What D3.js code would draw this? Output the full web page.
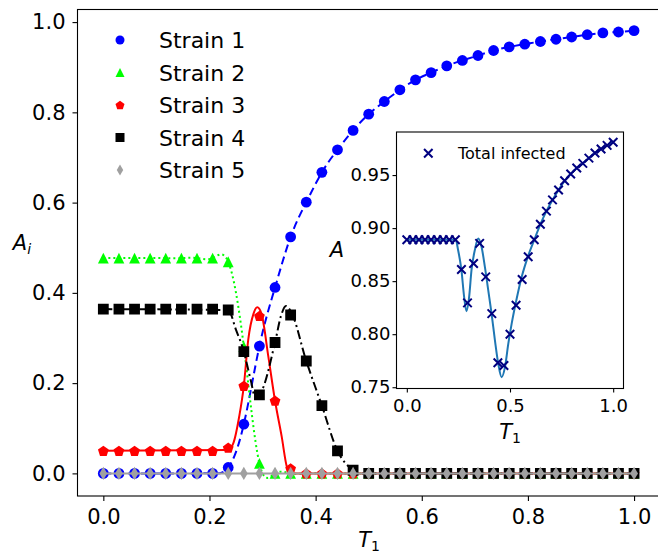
<!DOCTYPE html>
<html>
<head>
<meta charset="utf-8">
<script src="https://cdn.jsdelivr.net/npm/d3@7/dist/d3.min.js"></script>
<style>
  body { margin: 0; background: #fff; }
  text { font-family: "DejaVu Sans", sans-serif; fill: #000; }
</style>
</head>
<body>
<div id="chart"></div>
<script>

// T1 values (x axis, 35 runs)
var T1 = [0, 0.0294, 0.0588, 0.0882, 0.1176, 0.1471, 0.1765, 0.2059, 0.2353, 0.2647,
          0.2941, 0.3235, 0.3529, 0.3824, 0.4118, 0.4412, 0.4706, 0.5, 0.5294, 0.5588,
          0.5882, 0.6176, 0.6471, 0.6765, 0.7059, 0.7353, 0.7647, 0.7941, 0.8235, 0.8529,
          0.8824, 0.9118, 0.9412, 0.9706, 1.0];

var strain1 = [0, 0, 0, 0, 0, 0, 0, 0, 0.013, 0.109,
               0.282, 0.412, 0.524, 0.601, 0.667, 0.717, 0.760, 0.796, 0.824, 0.850,
               0.872, 0.888, 0.903, 0.915, 0.926, 0.937, 0.945, 0.951, 0.957, 0.962,
               0.967, 0.972, 0.976, 0.978, 0.981];
var strain2 = [0.477, 0.477, 0.477, 0.477, 0.477, 0.477, 0.477, 0.477, 0.469, 0.281,
               0.022, 0, 0, 0, 0, 0, 0, 0, 0, 0,
               0, 0, 0, 0, 0, 0, 0, 0, 0, 0,
               0, 0, 0, 0, 0];
var strain3 = [0.050, 0.050, 0.050, 0.050, 0.050, 0.050, 0.050, 0.050, 0.057, 0.194,
               0.349, 0.161, 0.011, 0, 0, 0, 0, 0, 0, 0,
               0, 0, 0, 0, 0, 0, 0, 0, 0, 0,
               0, 0, 0, 0, 0];
var strain4 = [0.364, 0.364, 0.364, 0.364, 0.364, 0.364, 0.364, 0.364, 0.362, 0.270,
               0.174, 0.290, 0.351, 0.249, 0.150, 0.050, 0.007, 0, 0, 0,
               0, 0, 0, 0, 0, 0, 0, 0, 0, 0,
               0, 0, 0, 0, 0];
var strain5 = [0, 0, 0, 0, 0, 0, 0, 0, 0, 0,
               0, 0, 0, 0, 0, 0, 0, 0, 0, 0,
               0, 0, 0, 0, 0, 0, 0, 0, 0, 0,
               0, 0, 0, 0, 0];

// fitted curves for strain 3 and 4 (they peak between runs)
var curve3T = [0, 0.2353, 0.245, 0.256, 0.2647, 0.273, 0.283, 0.290, 0.298, 0.311, 0.3235, 0.336, 0.346, 0.354, 0.38, 1.0];
var curve3 =  [0.050, 0.052, 0.067, 0.126, 0.194, 0.296, 0.354, 0.368, 0.354, 0.258, 0.161, 0.082, 0.014, 0, 0, 0];
var curve4T = [0, 0.2353, 0.25, 0.2647, 0.278, 0.286, 0.296, 0.3235, 0.335, 0.344, 0.3529, 0.3824, 0.4118, 0.4412, 0.4706, 0.48, 1.0];
var curve4 =  [0.364, 0.362, 0.318, 0.270, 0.205, 0.170, 0.178, 0.290, 0.350, 0.371, 0.360, 0.249, 0.150, 0.050, 0.007, 0, 0];

// inset: total infected
var totalInfected = [0.889, 0.889, 0.889, 0.889, 0.889, 0.889, 0.889, 0.889, 0.889, 0.861,
                     0.8295, 0.8667, 0.8856, 0.854, 0.8194, 0.773, 0.7705, 0.800, 0.8273, 0.8516,
                     0.873, 0.889, 0.9036, 0.916, 0.9266, 0.936, 0.9446, 0.951, 0.9566, 0.961,
                     0.966, 0.9708, 0.9746, 0.978, 0.981];
var totalCurveT = [0, 0.237, 0.2485, 0.2647, 0.2777, 0.289, 0.302, 0.3134, 0.3296, 0.3458,
                   0.362, 0.3783, 0.3945, 0.4107, 0.427, 0.4432, 0.4594, 0.4756, 0.4918, 0.5081,
                   0.5325, 0.5568, 0.5893, 0.6176, 0.6471, 0.6765, 0.7059, 0.7353, 0.7647, 0.7941,
                   0.8235, 0.8529, 0.8824, 0.9118, 0.9412, 0.9706, 1.0];
var totalCurve = [0.889, 0.889, 0.8793, 0.8604, 0.8352, 0.8216, 0.8352, 0.8604, 0.8793, 0.8903,
                  0.8824, 0.8635, 0.8415, 0.8194, 0.7942, 0.7721, 0.7595, 0.7690, 0.7911, 0.8099,
                  0.8336, 0.8541, 0.8746, 0.889, 0.9036, 0.916, 0.9266, 0.936, 0.9446, 0.951,
                  0.9566, 0.961, 0.966, 0.9708, 0.9746, 0.978, 0.981];

var strainNames = ["Strain 1", "Strain 2", "Strain 3", "Strain 4", "Strain 5"];
var mainXTicks = [0, 0.2, 0.4, 0.6, 0.8, 1.0];
var mainYTicks = [0, 0.2, 0.4, 0.6, 0.8, 1.0];
var insetXTicks = [0, 0.5, 1.0];
var insetYTicks = [0.75, 0.80, 0.85, 0.90, 0.95];

var series = [strain1, strain2, strain3, strain4, strain5];
// which x / y to use for each line
var lineXs = [T1, T1, curve3T, curve4T, T1];
var lineYs = [strain1, strain2, curve3, curve4, strain5];

// styles per strain
var styles = [
  { color: "#0000ff", dash: "8,4.5", marker: "circle", curve: d3.curveNatural },
  { color: "#00ff00", dash: "2,3", marker: "triangle", curve: d3.curveNatural },
  { color: "#ff0000", dash: null, marker: "pentagon", curve: d3.curveMonotoneX },
  { color: "#000000", dash: "9,3.5,2,3.5", marker: "square", curve: d3.curveMonotoneX },
  { color: "#a0a0a0", dash: null, marker: "diamond", curve: d3.curveLinear }
];

function markerPath (kind, s) {
  var h = s / 2;
  if (kind == "circle") {
    return "M" + h + ",0A" + h + "," + h + " 0 1,1 " + (-h) + ",0A" + h + "," + h + " 0 1,1 " + h + ",0Z";
  }
  if (kind == "triangle") {
    return "M0," + (-h) + "L" + h + "," + h + "L" + (-h) + "," + h + "Z";
  }
  if (kind == "square") {
    return "M" + (-h) + "," + (-h) + "H" + h + "V" + h + "H" + (-h) + "Z";
  }
  if (kind == "diamond") {
    var wd = s * 0.34;
    return "M0," + (-h * 1.15) + "L" + wd + ",0L0," + (h * 1.15) + "L" + (-wd) + ",0Z";
  }
  if (kind == "pentagon") {
    var pts = [];
    for (var k = 0; k < 5; k++) {
      var a = -Math.PI / 2 + k * 2 * Math.PI / 5;
      pts.push([h * 1.05 * Math.cos(a), h * 1.05 * Math.sin(a) + 0.5]);
    }
    return "M" + pts.map(function (p) { return p[0].toFixed(2) + "," + p[1].toFixed(2); }).join("L") + "Z";
  }
  if (kind == "x") {
    return "M" + (-h) + "," + (-h) + "L" + h + "," + h + "M" + (-h) + "," + h + "L" + h + "," + (-h);
  }
}

var w = 658;
var h = 556;

var svg = d3.select("#chart").append("svg")
  .attr("width", w).attr("height", h)
  .style("background", "#fff");

// ---------- main axes ----------
var mLeft = 77, mRight = 660.6, mTop = 9, mBottom = 495.5;
var x = d3.scaleLinear().domain([-0.05, 1.05]).range([mLeft - 0.2, mRight]);
var y = d3.scaleLinear().domain([-0.049, 1.029]).range([mBottom, mTop]);

svg.append("defs").append("clipPath").attr("id", "mainClip")
  .append("rect").attr("x", mLeft).attr("y", mTop)
  .attr("width", mRight - mLeft).attr("height", mBottom - mTop);

var plot = svg.append("g").attr("clip-path", "url(#mainClip)");

series.forEach(function (data, s) {
  var st = styles[s];
  var lx = lineXs[s];
  var line = d3.line()
    .x(function (d, i) { return x(lx[i]); })
    .y(function (d) { return y(d); })
    .curve(st.curve);

  plot.append("path")
    .datum(lineYs[s])
    .attr("d", line)
    .attr("fill", "none")
    .attr("stroke", st.color)
    .attr("stroke-width", 2)
    .attr("stroke-dasharray", st.dash);

  plot.append("g").selectAll("path")
    .data(data)
    .enter()
    .append("path")
    .attr("transform", function (d, i) { return "translate(" + x(T1[i]) + "," + y(d) + ")"; })
    .attr("d", markerPath(st.marker, st.marker == "diamond" ? 11.5 : 10.8))
    .attr("fill", st.color);
});

// frame (right spine falls off the picture)
svg.append("rect")
  .attr("x", mLeft + 0.5).attr("y", mTop + 0.5)
  .attr("width", mRight - mLeft).attr("height", mBottom - mTop)
  .attr("fill", "none").attr("stroke", "#000").attr("stroke-width", 1.1);

var xAxis = svg.append("g")
  .attr("transform", "translate(0," + (mBottom + 0.5) + ")")
  .call(d3.axisBottom(x).tickValues(mainXTicks).tickFormat(d3.format(".1f")).tickSize(5).tickPadding(8));
var yAxis = svg.append("g")
  .attr("transform", "translate(" + (mLeft + 0.5) + ",0)")
  .call(d3.axisLeft(y).tickValues(mainYTicks).tickFormat(d3.format(".1f")).tickSize(5).tickPadding(7));

[xAxis, yAxis].forEach(function (g) {
  g.select(".domain").remove();
  g.selectAll("line").attr("stroke", "#000").attr("stroke-width", 1.1);
  g.selectAll("text").attr("font-size", "21px").attr("fill", "#000")
    .attr("font-family", "DejaVu Sans, sans-serif");
});

// axis labels
var xl = svg.append("text").attr("x", 369).attr("y", 547).attr("text-anchor", "middle").attr("font-size", "21px");
xl.append("tspan").attr("font-style", "italic").text("T");
xl.append("tspan").attr("dy", 4).attr("font-size", "14px").text("1");

var yl = svg.append("text").attr("x", 22).attr("y", 250).attr("text-anchor", "middle").attr("font-size", "21px");
yl.append("tspan").attr("font-style", "italic").text("A");
yl.append("tspan").attr("dy", 4).attr("font-size", "14px").attr("font-style", "italic").text("i");

// legend
var legend = svg.append("g");
strainNames.forEach(function (name, s) {
  var ly = 40 + s * 32.5;
  legend.append("path")
    .attr("transform", "translate(120," + ly + ")")
    .attr("d", markerPath(styles[s].marker, styles[s].marker == "diamond" ? 9.5 : 9))
    .attr("fill", styles[s].color);
  legend.append("text")
    .attr("x", 159).attr("y", ly + 8)
    .attr("font-size", "22px")
    .text(name);
});

// ---------- inset ----------
var iLeft = 396.5, iRight = 623.5, iTop = 132, iBottom = 388.5;
var ix = d3.scaleLinear().domain([-0.05, 1.05]).range([iLeft, iRight]);
var iy = d3.scaleLinear().domain([0.7488, 0.9906]).range([iBottom, iTop]);

var inset = svg.append("g");
inset.append("rect")
  .attr("x", iLeft).attr("y", iTop)
  .attr("width", iRight - iLeft).attr("height", iBottom - iTop)
  .attr("fill", "#fff");

var iline = d3.line()
  .x(function (d, i) { return ix(totalCurveT[i]); })
  .y(function (d) { return iy(d); })
  .curve(d3.curveMonotoneX);

inset.append("path")
  .datum(totalCurve)
  .attr("d", iline)
  .attr("fill", "none")
  .attr("stroke", "#1f77b4")
  .attr("stroke-width", 2);

inset.append("g").selectAll("path")
  .data(totalInfected)
  .enter()
  .append("path")
  .attr("transform", function (d, i) { return "translate(" + ix(T1[i]) + "," + iy(d) + ")"; })
  .attr("d", markerPath("x", 8.5))
  .attr("fill", "none")
  .attr("stroke", "#000080")
  .attr("stroke-width", 2);

inset.append("rect")
  .attr("x", iLeft).attr("y", iTop)
  .attr("width", iRight - iLeft).attr("height", iBottom - iTop)
  .attr("fill", "none").attr("stroke", "#000").attr("stroke-width", 1.1);

var ixAxis = inset.append("g")
  .attr("transform", "translate(0," + iBottom + ")")
  .call(d3.axisBottom(ix).tickValues(insetXTicks).tickFormat(d3.format(".1f")).tickSize(4).tickPadding(7));
var iyAxis = inset.append("g")
  .attr("transform", "translate(" + iLeft + ",0)")
  .call(d3.axisLeft(iy).tickValues(insetYTicks).tickFormat(d3.format(".2f")).tickSize(4).tickPadding(2));

[ixAxis, iyAxis].forEach(function (g) {
  g.select(".domain").remove();
  g.selectAll("line").attr("stroke", "#000").attr("stroke-width", 1.1);
  g.selectAll("text").attr("font-size", "18px").attr("fill", "#000")
    .attr("font-family", "DejaVu Sans, sans-serif");
});

var ixl = inset.append("text").attr("x", 510).attr("y", 439).attr("text-anchor", "middle").attr("font-size", "21px");
ixl.append("tspan").attr("font-style", "italic").text("T");
ixl.append("tspan").attr("dy", 4).attr("font-size", "14px").text("1");

inset.append("text").attr("x", 337).attr("y", 257).attr("text-anchor", "middle")
  .attr("font-size", "21px").attr("font-style", "italic").text("A");

inset.append("path")
  .attr("transform", "translate(428.3,153.3)")
  .attr("d", markerPath("x", 8.5))
  .attr("fill", "none").attr("stroke", "#000080").attr("stroke-width", 2);
inset.append("text").attr("x", 458).attr("y", 159).attr("font-size", "16px").text("Total infected");

</script>
</body>
</html>
